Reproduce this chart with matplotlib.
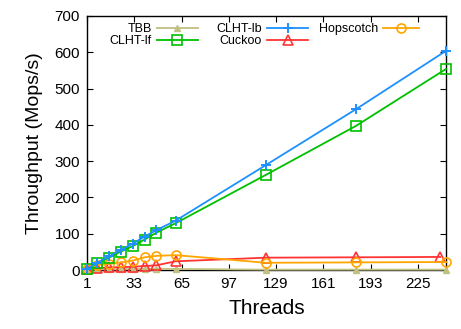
import matplotlib
matplotlib.use("Agg")
import matplotlib.pyplot as plt

threads = [1, 8, 16, 24, 32, 40, 48, 61, 122, 183, 244]
cuckoo_threads = [1, 8, 16, 24, 32, 40, 48, 61, 122, 183, 240]

tbb = [1, 2, 2, 2, 3, 3, 3, 3, 1, 1, 1]
clht_lf = [3, 18, 34, 51, 66, 84, 103, 129, 262, 397, 554]
clht_lb = [3, 20, 38, 55, 73, 92, 110, 136, 289, 443, 604]
cuckoo = [2, 5, 7, 8, 9, 11, 13, 24, 34, 35, 36]
hopscotch = [3, 14, 17, 21, 26, 35, 39, 41, 20, 21, 22]

xticks = [1, 33, 65, 97, 129, 161, 193, 225]

plt.rcParams['font.family'] = ['Liberation Sans', 'DejaVu Sans']

fig = plt.figure(figsize=(4.61, 3.29), dpi=100)
ax = fig.add_axes([0.1887, 0.1793, 0.7788, 0.7721])

l_tbb, = ax.plot(threads, tbb, '-^', color='#c0c080', lw=1.3, ms=5, label='TBB',
                 clip_on=False, zorder=3)
l_lf, = ax.plot(threads, clht_lf, '-s', color='#00c000', lw=1.3, ms=6.5, mfc='none', mew=1.2,
                label='CLHT-lf', clip_on=False, zorder=4)
l_lb, = ax.plot(threads, clht_lb, '-+', color='#1e90ff', lw=1.3, ms=7, mew=1.4,
                label='CLHT-lb', clip_on=False, zorder=5)
l_ck, = ax.plot(cuckoo_threads, cuckoo, '-^', color='#ff3333', lw=1.3, ms=6.5, mfc='none', mew=1.2,
                label='Cuckoo', clip_on=False, zorder=3)
l_hs, = ax.plot(threads, hopscotch, '-o', color='#ffa500', lw=1.3, ms=6.5, mfc='none', mew=1.2,
                label='Hopscotch', clip_on=False, zorder=3)

ax.set_xlim(1, 244)
ax.set_ylim(0, 700)
ax.set_xticks(xticks)
ax.set_yticks(range(0, 701, 100))
ax.tick_params(direction='in', top=True, right=True, labelsize=11, length=4, pad=5)
for s in ax.spines.values():
    s.set_linewidth(1.0)

ax.set_xlabel('Threads', fontsize=15, labelpad=6)
ax.set_ylabel('Throughput (Mops/s)', fontsize=14, labelpad=8)

# gnuplot-style key: text right-aligned before each sample, one legend per column
opts = dict(loc='upper right', frameon=False, markerfirst=False, fontsize=9,
            handlelength=3.3, handletextpad=0.4, labelspacing=0.0, borderpad=0,
            borderaxespad=0)
leg1 = ax.legend([l_tbb, l_lf], ['TBB', 'CLHT-lf'], bbox_to_anchor=(0.309, 0.972), **opts)
ax.add_artist(leg1)
leg2 = ax.legend([l_lb, l_ck], ['CLHT-lb', 'Cuckoo'], bbox_to_anchor=(0.616, 0.972), **opts)
ax.add_artist(leg2)
ax.legend([l_hs], ['Hopscotch'], bbox_to_anchor=(0.925, 0.972),
          **dict(opts, handlelength=2.9))

fig.savefig('out.png', dpi=100)
